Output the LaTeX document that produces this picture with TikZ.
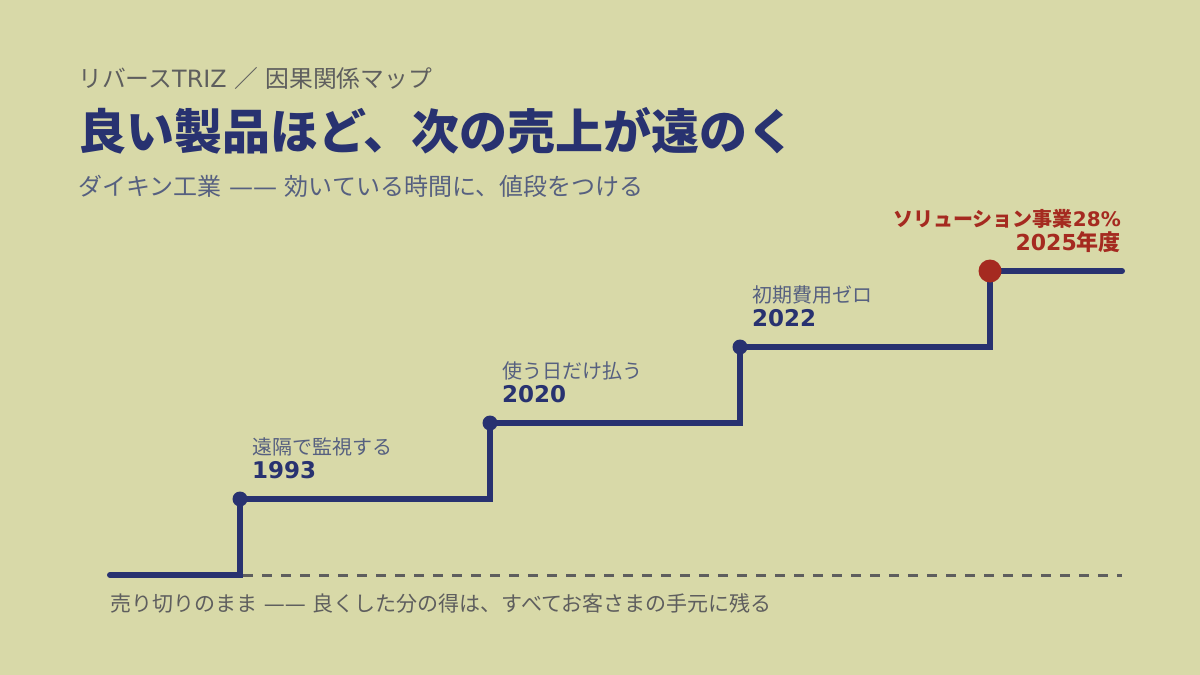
\documentclass[tikz,border=0pt]{standalone}
\usepackage{fontspec}
\setmainfont{Noto Sans CJK JP}
\newfontfamily\dv{DejaVu Sans}
\definecolor{bg}{HTML}{D8D9A8}
\definecolor{navy}{HTML}{283270}
\definecolor{rust}{HTML}{A52A20}
\definecolor{ink}{HTML}{5E5E5E}
\definecolor{slate}{HTML}{566080}
\begin{document}
\begin{tikzpicture}
[x=1pt, y=-1pt,
 txt/.style={inner sep=0pt, anchor=base west},
 steplbl/.style={txt, text=slate, font=\fontsize{20}{24}\selectfont},
 yearlbl/.style={txt, text=navy, font=\dv\bfseries\fontsize{23}{27}\selectfont},
 dot/.style={circle, fill=navy, inner sep=0pt, minimum size=15pt},
 reddot/.style={circle, fill=rust, inner sep=0pt, minimum size=23pt},
 stair/.style={draw=navy, line width=6pt, line cap=round}]

\fill[bg] (0,0) rectangle (1200,675);
\useasboundingbox (0,0) rectangle (1200,675);

\node[txt, text=ink, font=\fontsize{23.8}{28}\selectfont] (kicker) at (78,87) {リバース{\dv TRIZ }／{\dv{} }因果関係マップ};
\node[txt, text=navy, font=\bfseries\fontsize{48}{56}\selectfont] (title) at (78,149) {良い製品ほど、次の売上が遠のく};
\node[txt, text=slate, font=\fontsize{24}{28}\selectfont] (sub) at (78,195) {ダイキン工業{\dv{} —— }効いている時間に、値段をつける};

\coordinate (c0) at (110,575);
\coordinate (c5) at (1122,271);
\coordinate (e0) at (1122,575);

\node[dot] (s1) at (240,499) {};
\node[dot] (s2) at (490,423) {};
\node[dot] (s3) at (740,347) {};

\draw[ink, line width=3pt, dash pattern=on 10pt off 9pt] ([xshift=3pt]s1 |- c0) -- (e0);
\draw[stair] (c0) -| (s1.center) -| (s2.center) -| (s3.center) -| (990,271) -- (c5);

\node[reddot] (s4) at (990,271) {};

\node[steplbl] (l1) at (252,454) {遠隔で監視する};
\node[yearlbl] (y1) at (252,478) {1993};
\node[steplbl] (l2) at (502,378) {使う日だけ払う};
\node[yearlbl] (y2) at (502,402) {2020};
\node[steplbl] (l3) at (752,302) {初期費用ゼロ};
\node[yearlbl] (y3) at (752,326) {2022};

\node[inner sep=0pt, anchor=base east, text=rust, font=\bfseries\fontsize{20}{24}\selectfont] (r1) at (1121,226) {ソリューション事業{\dv 28\%}};
\node[inner sep=0pt, anchor=base east, text=rust, font=\bfseries\fontsize{22}{26}\selectfont] (r2) at (1121,250) {{\dv 2025}年度};

\node[txt, text=ink, font=\fontsize{21}{25}\selectfont] (foot) at (110,611) {売り切りのまま{\dv{} —— }良くした分の得は、すべてお客さまの手元に残る};

\end{tikzpicture}
\end{document}
